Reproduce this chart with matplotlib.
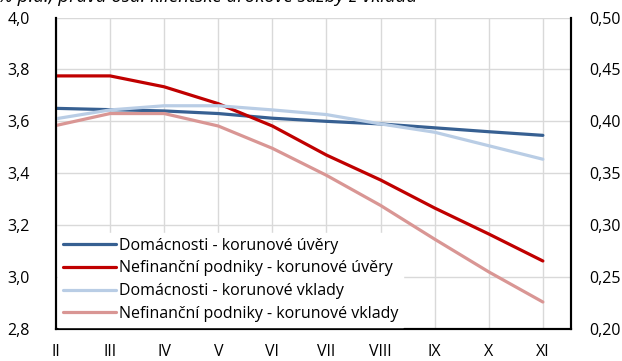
import matplotlib.pyplot as plt
import numpy as np

months = ["II", "III", "IV", "V", "VI", "VII", "VIII", "IX", "X", "XI"]

# left axis: loan rates (% p.a.)
dom_uvery = [3.650, 3.645, 3.640, 3.630, 3.612, 3.600, 3.590, 3.575, 3.560, 3.546]
nfp_uvery = [3.775, 3.775, 3.733, 3.668, 3.582, 3.470, 3.374, 3.266, 3.166, 3.062]

# right axis: deposit rates (% p.a.)
dom_vklady = [0.4025, 0.4110, 0.4150, 0.4150, 0.4110, 0.4065, 0.3975, 0.3895, 0.3765, 0.3635]
nfp_vklady = [0.3960, 0.4075, 0.4075, 0.3955, 0.3740, 0.3480, 0.3190, 0.2865, 0.2550, 0.2260]

c_dom_u = "#376092"
c_nfp_u = "#C00000"
c_dom_v = "#B9CDE5"
c_nfp_v = "#D99694"

plt.rcParams['font.family'] = ['Open Sans', 'DejaVu Sans']

fig = plt.figure(figsize=(6.22, 3.61), dpi=100)
ax = fig.add_axes([56 / 622, 1 - 329 / 361, (571 - 56) / 622, (329 - 17.5) / 361])
ax2 = ax.twinx()

x = np.arange(len(months))
l1, = ax.plot(x, dom_uvery, color=c_dom_u, lw=2.3, solid_capstyle='round')
l2, = ax.plot(x, nfp_uvery, color=c_nfp_u, lw=2.3, solid_capstyle='round')
l3, = ax2.plot(x, dom_vklady, color=c_dom_v, lw=2.3, solid_capstyle='round')
l4, = ax2.plot(x, nfp_vklady, color=c_nfp_v, lw=2.3, solid_capstyle='round')

ax.set_xlim(0, 9.52)
ax.set_ylim(2.8, 4.0)
ax2.set_ylim(0.20, 0.50)
ax.set_xticks(x)
ax.set_xticklabels(months)
ax.set_yticks(np.arange(2.8, 4.01, 0.2))
ax.set_yticklabels([f"{v:.1f}".replace(".", ",") for v in np.arange(2.8, 4.01, 0.2)])
ax2.set_yticks(np.arange(0.20, 0.501, 0.05))
ax2.set_yticklabels([f"{v:.2f}".replace(".", ",") for v in np.arange(0.20, 0.501, 0.05)])

ax.grid(True, color="#D9D9D9", lw=1)
ax.set_axisbelow(True)
ax.tick_params(length=0, labelsize=11.5)
ax.tick_params(axis='x', pad=11)
ax.tick_params(axis='y', pad=19)
ax2.tick_params(length=0, labelsize=11.5, pad=13)

for a in (ax, ax2):
    a.spines['top'].set_visible(False)
    for s in ('left', 'right', 'bottom'):
        a.spines[s].set_linewidth(1.5)
        a.spines[s].set_color("black")

leg = ax2.legend([l1, l2, l3, l4],
                 ["Domácnosti - korunové úvěry",
                  "Nefinanční podniky - korunové úvěry",
                  "Domácnosti - korunové vklady",
                  "Nefinanční podniky - korunové vklady"],
                 loc='lower left', bbox_to_anchor=(0.0, 0.0), frameon=True,
                 fontsize=11.5, handlelength=3.3, handletextpad=0.2,
                 labelspacing=0.42, borderpad=0.3, borderaxespad=0.15)
leg.get_frame().set_edgecolor("white")
leg.get_frame().set_facecolor("white")
leg.get_frame().set_alpha(1)
leg.get_frame().set_boxstyle('square', pad=0)

fig.text(-0.003, 1 - 2.5 / 361, "% p.a.; pravá osa: klientské úrokové sazby z vkladů",
         style='italic', fontsize=13.5, va='baseline', ha='left')

fig.savefig("out.png", dpi=100)
